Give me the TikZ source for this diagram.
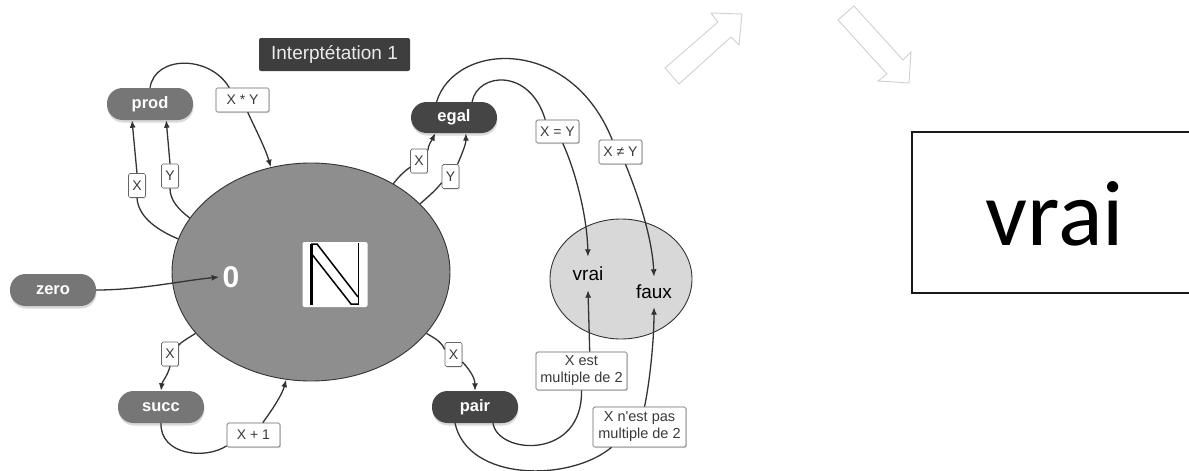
\documentclass[tikz,border=0pt]{standalone}
\usepackage{fontspec}
\setmainfont{Liberation Sans}
\newfontfamily\calibri{Carlito}
\usetikzlibrary{shapes.geometric,shadows,arrows.meta}

\definecolor{inkline}{HTML}{333333}
\definecolor{pillmid}{HTML}{767676}
\definecolor{pilldark}{HTML}{454545}
\definecolor{natfill}{HTML}{8E8E8E}
\definecolor{boolfill}{HTML}{D8D8D8}
\definecolor{titlefill}{HTML}{3E3E3E}
\definecolor{ghost}{HTML}{CFCFCF}
\definecolor{tagtext}{HTML}{3A3A3A}

\begin{document}
\begin{tikzpicture}[x=1pt,y=-1pt,
  pill/.style={rounded corners=15.5pt, minimum width=86pt, minimum height=32pt,
    inner sep=0pt, text=white, font=\fontsize{16.5}{18}\selectfont\bfseries,
    drop shadow={opacity=0.3,shadow xshift=0.5pt,shadow yshift=-2.5pt}},
  midpill/.style={pill, fill=pillmid},
  darkpill/.style={pill, fill=pilldark},
  tag/.style={draw=gray!80!black, line width=0.7pt, fill=white, rounded corners=1.5pt,
    inner sep=0pt, minimum height=24pt, minimum width=17pt,
    font=\fontsize{14}{17}\selectfont, text=tagtext, align=center,
    drop shadow={opacity=0.25,shadow xshift=0.8pt,shadow yshift=-1.2pt}},
  link/.style={draw=inkline, line width=1.3pt},
  arr/.style={link, -{Latex[length=7.5pt,width=6pt]}},
]
\useasboundingbox (0,0) rectangle (1189,471);

% the set of naturals
\node[ellipse, draw=inkline, line width=0.9pt, fill=natfill, minimum width=278pt,
      minimum height=218pt, inner sep=0pt] (nat) at (311,272) {};
\node[text=white, font=\fontsize{30}{30}\selectfont\bfseries] (zeroval) at (231,277) {0};
\node[fill=white, rounded corners=2pt, minimum width=65pt, minimum height=65pt,
      inner sep=0pt] (nset) at (335,274.5) {};
\draw[line width=2.4pt] (311.5,244) -- (311.5,305);
\draw[line width=1.5pt, line join=miter] (311,244) -- (317,244) -- (358,297);
\draw[line width=1.5pt, line join=miter] (311,253) -- (351,304) -- (358.5,304);
\draw[line width=1.5pt] (358.5,243) -- (358.5,305);

% the booleans
\node[ellipse, draw=inkline, line width=0.9pt, fill=boolfill, minimum width=142pt,
      minimum height=120pt, inner sep=0pt] (bool) at (621,279) {};
\node[font=\fontsize{19}{20}\selectfont, minimum height=33pt, inner sep=0pt] (vrai) at (588,273.5) {vrai};
\node[font=\fontsize{19}{20}\selectfont, minimum height=30pt, inner sep=0pt] (faux) at (654,292) {faux};

% title
\node[fill=titlefill, rounded corners=2pt, minimum width=151pt, minimum height=33pt,
      inner sep=0pt, text=white!92!black, font=\fontsize{19}{22}\selectfont] (title) at (334.5,54.5) {Interptétation 1};

% operations
\node[midpill] (prod) at (150,104) {prod};
\node[darkpill, minimum height=31pt] (egal) at (454,117.5) {egal};
\node[midpill] (zero) at (53,290) {zero};
\node[midpill] (succ) at (161,407) {succ};
\node[darkpill] (pair) at (475,407) {pair};

% edge tags
\node[tag] (tx1) at (137,185.5) {X};
\node[tag] (ty1) at (170,176) {Y};
\node[tag, minimum width=53pt] (txy) at (242.5,100) {X * Y};
\node[tag] (tx2) at (419,161) {X};
\node[tag] (ty2) at (450.5,176.5) {Y};
\node[tag, minimum width=43pt, minimum height=23pt] (teq) at (557.5,131.5) {X = Y};
\node[tag, minimum width=43pt] (tneq) at (620.5,152) {X ≠ Y};
\node[tag] (tsx) at (170,354) {X};
\node[tag, minimum width=53pt] (tsucc) at (253.5,435) {X + 1};
\node[tag] (tpx) at (453.5,354.5) {X};
\node[tag, minimum width=91pt, minimum height=38pt, font=\fontsize{14.5}{17}\selectfont] (tmul) at (581.5,371) {X est\\multiple de 2};
\node[tag, minimum width=93pt, minimum height=40pt, font=\fontsize{14.5}{17}\selectfont] (tnmul) at (639.5,427) {X n\textquotesingle est pas\\multiple de 2};

% prod
\draw[link] (nat.166) .. controls (152,228) and (138,214) .. (tx1.south);
\draw[arr] (tx1.north) -- (prod.222);
\draw[link] (nat.156) .. controls (178,209) and (170,200) .. (ty1.south);
\draw[arr] (ty1.north) -- (prod.315);
\draw[link] (prod.north) .. controls (155,55) and (210,55) .. (txy.137);
\draw[arr] (txy.293) .. controls (256,130) and (266,150) .. (nat.111);

% egal
\draw[link] (nat.47) .. controls (400,175) and (405,171) .. (tx2.215);
\draw[arr] (tx2.50) .. controls (428,145) and (432,140) .. (egal.220);
\draw[link] (nat.32) .. controls (430,195) and (436,190) .. (ty2.215);
\draw[arr] (ty2.60) .. controls (460,158) and (466,145) .. (egal.307);
\draw[link] (egal.41) .. controls (478,72) and (530,68) .. (teq.136);
\draw[arr] (teq.294) .. controls (575,170) and (587,215) .. (vrai.north);
\draw[link] (egal.138) .. controls (455,42) and (570,35) .. (tneq.124);
\draw[arr] (tneq.292) .. controls (636,190) and (652,235) .. (faux.north);

% zero
\draw[arr] (zero.east) .. controls (140,290) and (180,281) .. (zeroval.west);

% succ
\draw[link] (nat.208) .. controls (185,340) and (180,343) .. (tsx.45);
\draw[arr] (tsx.south) .. controls (168,375) and (162,382) .. (succ.north);
\draw[link] (succ.south) .. controls (160,455) and (205,460) .. (tsucc.202);
\draw[arr] (tsucc.53) .. controls (272,410) and (282,395) .. (nat.257);

% pair
\draw[link] (nat.332) .. controls (438,340) and (442,343) .. (tpx.150);
\draw[arr] (tpx.320) .. controls (472,372) and (475,380) .. (pair.north);
\draw[link] (pair.318) .. controls (498,455) and (583,460) .. (tmul.south);
\draw[arr] (tmul.67) -- (vrai.south);
\draw[link] (pair.219) .. controls (468,482) and (570,482) .. (tnmul.216);
\draw[arr] (tnmul.76) .. controls (650,380) and (654,340) .. (faux.south);

% outlined block arrows
\draw[ghost, line width=0.9pt, line join=miter]
  (665,68) -- (718,22) -- (711,13) -- (742,14) -- (739,45) -- (731,37) -- (679,84) -- cycle;
\draw[ghost, line width=0.9pt, line join=miter]
  (838,20) -- (854,6) -- (903,60) -- (911,52) -- (909,83) -- (878,81) -- (887,74) -- cycle;

% result box
\draw[black!90, line width=1.8pt] (1200,132) -- (912,132) -- (912,293) -- (1200,293);
\node[font=\calibri\fontsize{93}{93}\selectfont, anchor=base, inner sep=0pt] (bigvrai) at (1055,245) {vrai};
\end{tikzpicture}
\end{document}
